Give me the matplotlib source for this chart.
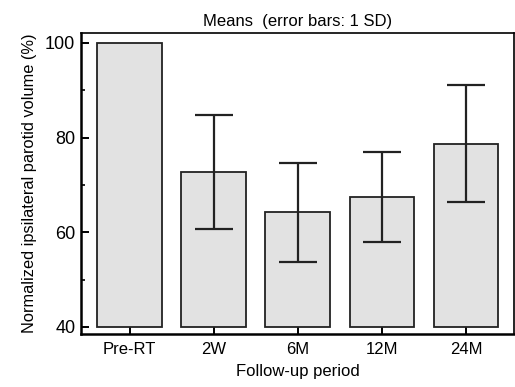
import matplotlib
matplotlib.use('Agg')
import matplotlib.pyplot as plt
from matplotlib.ticker import MultipleLocator

# 数据：各随访时间点的均值和标准差
periods = ['Pre-RT', '2W', '6M', '12M', '24M']
means = [100, 72.8, 64.2, 67.5, 78.7]
sd_upper = [0, 12.0, 10.5, 9.4, 12.3]
sd_lower = [0, 12.2, 10.4, 9.6, 12.4]

plt.rcParams['font.family'] = ['Liberation Sans', 'DejaVu Sans']

fig = plt.figure(figsize=(5.15, 3.87), dpi=100)
ax = fig.add_axes([0.157, 0.137, 0.841, 0.778])

x = list(range(len(periods)))
heights = [m - 40 for m in means]
ax.bar(x, heights, bottom=40, width=0.77, color='#e2e2e2',
       edgecolor='#222222', linewidth=1.3, zorder=2)

# 误差线（1 SD），无SD的不画
for xi, m, lo, hi in zip(x, means, sd_lower, sd_upper):
    if hi == 0 and lo == 0:
        continue
    ax.errorbar(xi, m, yerr=[[lo], [hi]], fmt='none', ecolor='#222222',
                elinewidth=1.6, capsize=14, capthick=1.6, zorder=3)

ax.set_xlim(-0.58, 4.57)
ax.set_ylim(38.5, 102.1)
ax.set_xticks(x)
ax.set_xticklabels(periods, fontsize=12)
ax.set_yticks([40, 60, 80, 100])
ax.yaxis.set_minor_locator(MultipleLocator(10))
ax.tick_params(axis='y', which='major', direction='in', length=6, width=1.4,
               labelsize=13, pad=4)
ax.tick_params(axis='y', which='minor', direction='in', length=3, width=1.2)
ax.tick_params(axis='x', direction='in', length=6, width=1.4, pad=6)

for side in ['left', 'bottom']:
    ax.spines[side].set_linewidth(1.8)
for side in ['top', 'right']:
    ax.spines[side].set_linewidth(1.2)

ax.set_title('Means  (error bars: 1 SD)', fontsize=12, pad=5)
ax.set_xlabel('Follow-up period', fontsize=12, labelpad=5)
ax.set_ylabel('Normalized ipsilateral parotid volume (%)', fontsize=11.8, labelpad=6)

fig.savefig('out.png', dpi=100)
